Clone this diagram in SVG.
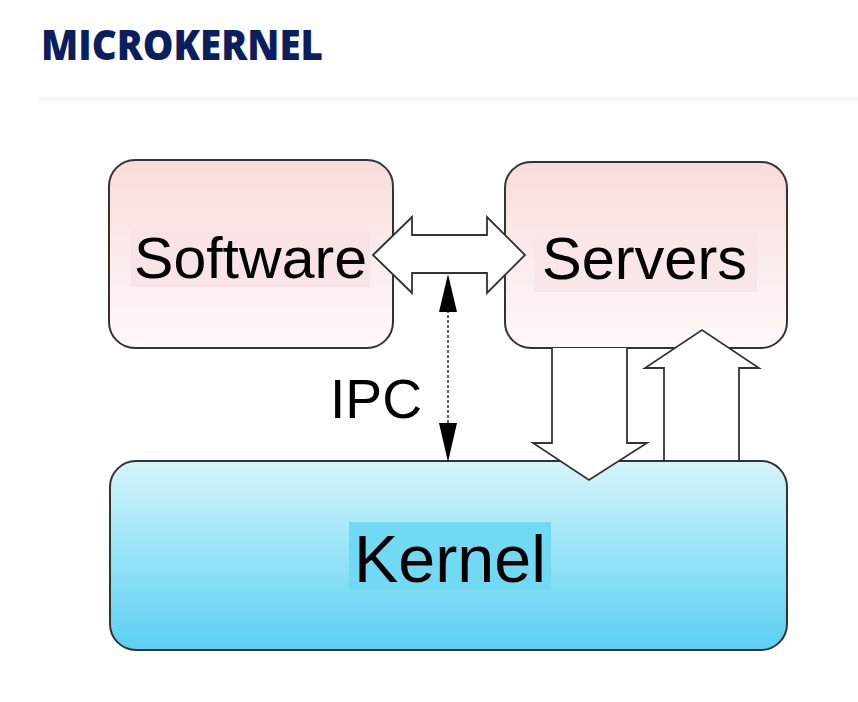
<svg xmlns="http://www.w3.org/2000/svg" width="858" height="702" viewBox="0 0 858 702">
<defs>
<linearGradient id="pink" x1="0" y1="0" x2="0" y2="1">
<stop offset="0" stop-color="#f8dcdc"/>
<stop offset="1" stop-color="#fff9f9"/>
</linearGradient>
<linearGradient id="blue" x1="0" y1="0" x2="0" y2="1">
<stop offset="0" stop-color="#d6f5fc"/>
<stop offset="0.5" stop-color="#96e3f7"/>
<stop offset="1" stop-color="#5ccff3"/>
</linearGradient>
<linearGradient id="rule" x1="0" y1="0" x2="0" y2="1">
<stop offset="0" stop-color="#ffffff"/>
<stop offset="0.5" stop-color="#f4f4f4"/>
<stop offset="1" stop-color="#ffffff"/>
</linearGradient>
</defs>
<style>
.box{stroke:#333;stroke-width:2}
.lbl{font-family:"Liberation Sans",Arial,sans-serif;fill:#000}
.blk{fill:#fff;stroke:#333;stroke-width:1.8;stroke-linejoin:miter}
</style>
<rect width="858" height="702" fill="#fff"/>
<text x="41" y="60" font-family="'Open Sans','Noto Sans',sans-serif" font-weight="800" font-size="43" fill="#0b1f5e" textLength="282" lengthAdjust="spacingAndGlyphs">MICROKERNEL</text>
<rect x="38" y="96" width="820" height="6" fill="url(#rule)"/>

<g id="software">
<rect class="box" x="109" y="160" width="284" height="188" rx="26" fill="url(#pink)"/>
<rect x="131" y="230" width="239" height="57" fill="#f8e4e4"/>
<text class="lbl" x="134" y="278" font-size="58" textLength="233" lengthAdjust="spacingAndGlyphs">Software</text>
</g>
<g id="servers">
<rect class="box" x="505" y="162" width="282" height="186" rx="26" fill="url(#pink)"/>
<rect x="534" y="232" width="223" height="60" fill="#f9e6e6"/>
<text class="lbl" x="542" y="279" font-size="59" textLength="205" lengthAdjust="spacingAndGlyphs">Servers</text>
</g>
<g id="kernel">
<rect class="box" x="110" y="461" width="677" height="189" rx="26" fill="url(#blue)"/>
<rect x="349" y="522" width="202" height="68" fill="#72d9f3"/>
<text class="lbl" x="354" y="582" font-size="67" textLength="192" lengthAdjust="spacingAndGlyphs">Kernel</text>
</g>
<g id="ipc-label">
<text class="lbl" x="330" y="418" font-size="56" textLength="92" lengthAdjust="spacingAndGlyphs">IPC</text>
</g>

<g id="connectors">
<path class="blk" d="M373,255 L412,217 L412,235 L487,235 L487,217 L525,255 L487,293 L487,273 L412,273 L412,293 Z"/>
<path class="blk" d="M552,348 L552,443 L533,443 L589,480 L647,443 L627,443 L627,348"/>
<path class="blk" d="M664,460 L664,368 L645,368 L702,330 L759,368 L739,368 L739,460"/>
<line x1="448" y1="300" x2="448" y2="435" stroke="#666" stroke-width="2" stroke-dasharray="3 2"/>
<path d="M448,274 L457,312 L439,312 Z" fill="#000"/>
<path d="M448,462 L457,423 L439,423 Z" fill="#000"/>
</g>
</svg>
